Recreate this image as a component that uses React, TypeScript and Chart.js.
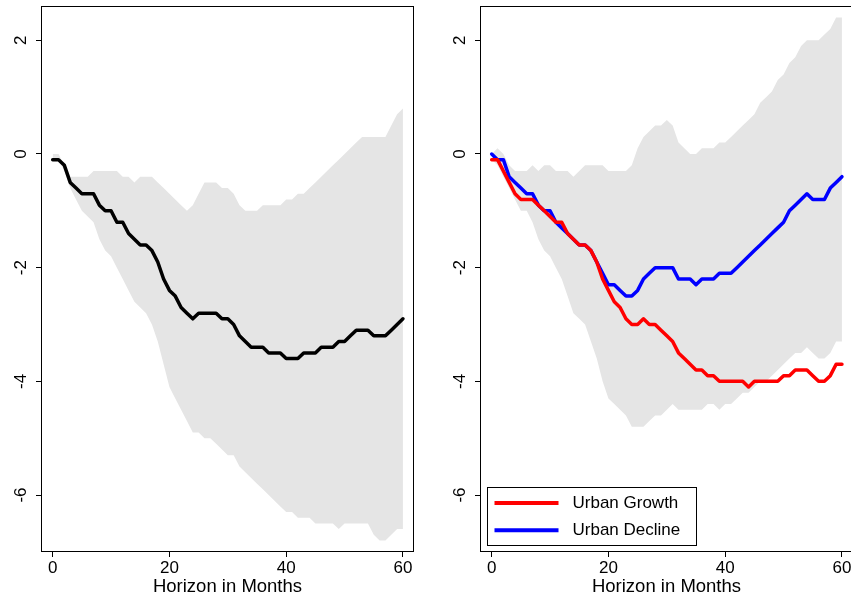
import React, { useEffect, useRef } from "react";
import { Chart, registerables } from "chart.js";

Chart.register(...registerables);

// ---------- data ----------
const months = [
  0, 1, 2, 3, 4, 5, 6, 7, 8, 9, 10, 11, 12, 13, 14, 15, 16, 17, 18, 19, 20,
  21, 22, 23, 24, 25, 26, 27, 28, 29, 30, 31, 32, 33, 34, 35, 36, 37, 38, 39,
  40, 41, 42, 43, 44, 45, 46, 47, 48, 49, 50, 51, 52, 53, 54, 55, 56, 57, 58,
  59, 60,
];
const xTicks = [0, 20, 40, 60];
const yTicks = [-6, -4, -2, 0, 2];
const xTitle = "Horizon in Months";
const legendLabels = ["Urban Growth", "Urban Decline"];

// left panel: overall response with band
const allLine = [
  -0.1, -0.1, -0.2, -0.5, -0.6, -0.7, -0.7, -0.7, -0.9, -1.0,
  -1.0, -1.2, -1.2, -1.4, -1.5, -1.6, -1.6, -1.7, -1.9, -2.2,
  -2.4, -2.5, -2.7, -2.8, -2.9, -2.8, -2.8, -2.8, -2.8, -2.9,
  -2.9, -3.0, -3.2, -3.3, -3.4, -3.4, -3.4, -3.5, -3.5, -3.5,
  -3.6, -3.6, -3.6, -3.5, -3.5, -3.5, -3.4, -3.4, -3.4, -3.3,
  -3.3, -3.2, -3.1, -3.1, -3.1, -3.2, -3.2, -3.2, -3.1, -3.0,
  -2.9,
];
const allUpper = [
  0.0, 0.0, -0.2, -0.4, -0.4, -0.4, -0.4, -0.3, -0.3, -0.3,
  -0.3, -0.3, -0.4, -0.4, -0.5, -0.4, -0.4, -0.4, -0.5, -0.6,
  -0.7, -0.8, -0.9, -1.0, -0.9, -0.7, -0.5, -0.5, -0.5, -0.6,
  -0.6, -0.7, -0.9, -1.0, -1.0, -1.0, -0.9, -0.9, -0.9, -0.9,
  -0.8, -0.8, -0.7, -0.7, -0.6, -0.5, -0.4, -0.3, -0.2, -0.1,
  0.0, 0.1, 0.2, 0.3, 0.3, 0.3, 0.3, 0.3, 0.5, 0.7,
  0.8,
];
const allLower = [
  -0.1, -0.1, -0.3, -0.6, -0.8, -1.0, -1.1, -1.2, -1.5, -1.7,
  -1.8, -2.0, -2.2, -2.4, -2.6, -2.7, -2.8, -3.0, -3.3, -3.7,
  -4.1, -4.3, -4.5, -4.7, -4.9, -4.9, -5.0, -5.0, -5.1, -5.2,
  -5.3, -5.3, -5.5, -5.6, -5.7, -5.8, -5.9, -6.0, -6.1, -6.2,
  -6.3, -6.3, -6.4, -6.4, -6.4, -6.5, -6.5, -6.5, -6.5, -6.6,
  -6.5, -6.5, -6.5, -6.5, -6.5, -6.7, -6.8, -6.8, -6.7, -6.6,
  -6.6,
];

// right panel: urban growth vs urban decline
const growthLine = [
  -0.1, -0.1, -0.3, -0.5, -0.7, -0.8, -0.8, -0.8, -0.9, -1.0,
  -1.1, -1.2, -1.2, -1.4, -1.5, -1.6, -1.6, -1.7, -1.9, -2.2,
  -2.4, -2.6, -2.7, -2.9, -3.0, -3.0, -2.9, -3.0, -3.0, -3.1,
  -3.2, -3.3, -3.5, -3.6, -3.7, -3.8, -3.8, -3.9, -3.9, -4.0,
  -4.0, -4.0, -4.0, -4.0, -4.1, -4.0, -4.0, -4.0, -4.0, -4.0,
  -3.9, -3.9, -3.8, -3.8, -3.8, -3.9, -4.0, -4.0, -3.9, -3.7,
  -3.7,
];
const declineLine = [
  0.0, -0.1, -0.1, -0.4, -0.5, -0.6, -0.7, -0.7, -0.9, -1.0,
  -1.0, -1.2, -1.3, -1.4, -1.5, -1.6, -1.6, -1.7, -1.9, -2.1,
  -2.3, -2.3, -2.4, -2.5, -2.5, -2.4, -2.2, -2.1, -2.0, -2.0,
  -2.0, -2.0, -2.2, -2.2, -2.2, -2.3, -2.2, -2.2, -2.2, -2.1,
  -2.1, -2.1, -2.0, -1.9, -1.8, -1.7, -1.6, -1.5, -1.4, -1.3,
  -1.2, -1.0, -0.9, -0.8, -0.7, -0.8, -0.8, -0.8, -0.6, -0.5,
  -0.4,
];
const splitUpper = [
  0.0, 0.1, 0.0, -0.2, -0.3, -0.3, -0.3, -0.2, -0.3, -0.2,
  -0.2, -0.3, -0.3, -0.3, -0.4, -0.3, -0.2, -0.2, -0.2, -0.2,
  -0.3, -0.3, -0.3, -0.3, -0.2, 0.1, 0.3, 0.4, 0.5, 0.5,
  0.6, 0.5, 0.2, 0.1, 0.0, 0.0, 0.1, 0.1, 0.1, 0.2,
  0.2, 0.3, 0.4, 0.5, 0.6, 0.7, 0.9, 1.0, 1.1, 1.3,
  1.4, 1.6, 1.7, 1.9, 2.0, 2.0, 2.0, 2.1, 2.2, 2.4,
  2.4,
];
const splitLower = [
  -0.1, -0.2, -0.4, -0.6, -0.8, -1.0, -1.0, -1.2, -1.5, -1.7,
  -1.8, -2.0, -2.2, -2.5, -2.8, -2.9, -3.0, -3.3, -3.6, -4.0,
  -4.3, -4.4, -4.5, -4.6, -4.8, -4.8, -4.8, -4.7, -4.6, -4.6,
  -4.5, -4.4, -4.5, -4.5, -4.5, -4.5, -4.5, -4.4, -4.4, -4.5,
  -4.4, -4.4, -4.3, -4.2, -4.2, -4.1, -4.0, -4.0, -3.9, -3.8,
  -3.7, -3.6, -3.5, -3.5, -3.4, -3.5, -3.6, -3.6, -3.5, -3.3,
  -3.3,
];

// ---------- styling ----------
const FONT = "'Liberation Sans', Arial, Helvetica, sans-serif";
const BAND = "#e5e5e5";

const pts = (vals: number[]) => months.map((m, i) => ({ x: m, y: vals[i] }));

const framePlugin = {
  id: "frameBox",
  afterDraw(chart: any) {
    const { ctx, chartArea: a } = chart;
    ctx.save();
    ctx.strokeStyle = "#000";
    ctx.lineWidth = 1;
    ctx.strokeRect(
      Math.round(a.left) - 0.5,
      Math.round(a.top) - 0.5,
      Math.round(a.right) - Math.round(a.left) + 1,
      Math.round(a.bottom) - Math.round(a.top) + 1
    );
    ctx.restore();
  },
};

const boxLegendPlugin = {
  id: "boxLegend",
  afterDraw(chart: any, _args: any, opts: any) {
    if (!opts || !opts.display) return;
    const { ctx, chartArea: a } = chart;
    const items = chart.data.datasets.filter((d: any) => d.inLegend);
    const w = 209;
    const h = 58;
    const x0 = Math.round(a.left + 6) + 0.5;
    const y0 = Math.round(a.bottom - 6 - h) + 0.5;
    ctx.save();
    ctx.fillStyle = "#fff";
    ctx.fillRect(x0, y0, w, h);
    ctx.strokeStyle = "#000";
    ctx.lineWidth = 1;
    ctx.strokeRect(x0, y0, w, h);
    items.forEach((d: any, i: number) => {
      const cy = y0 + 15.5 + i * 27.3;
      ctx.strokeStyle = d.borderColor;
      ctx.lineWidth = 4;
      ctx.beginPath();
      ctx.moveTo(x0 + 7, cy);
      ctx.lineTo(x0 + 71, cy);
      ctx.stroke();
      ctx.fillStyle = "#000";
      ctx.font = `17px ${FONT}`;
      ctx.textBaseline = "middle";
      ctx.textAlign = "left";
      ctx.fillText(d.label, x0 + 85, cy);
    });
    ctx.restore();
  },
};

function makeConfig(datasets: any[], showLegend: boolean): any {
  return {
    type: "line",
    data: { datasets },
    plugins: [framePlugin, boxLegendPlugin],
    options: {
      animation: false,
      responsive: false,
      devicePixelRatio: 1,
      layout: { padding: { left: 0, right: 12, top: 7, bottom: 0 } },
      elements: { point: { radius: 0 }, line: { tension: 0 } },
      plugins: {
        legend: { display: false },
        tooltip: { enabled: false },
        filler: { drawTime: "beforeDatasetsDraw" },
        boxLegend: { display: showLegend },
      },
      scales: {
        x: {
          type: "linear",
          min: -1.83,
          max: 61.72,
          afterBuildTicks: (s: any) => {
            s.ticks = xTicks.map((v) => ({ value: v }));
          },
          afterFit: (s: any) => {
            s.height = 48;
            s.paddingLeft = 0;
            s.paddingRight = 0;
          },
          border: { display: false },
          grid: {
            drawOnChartArea: false,
            drawTicks: true,
            tickLength: 6,
            tickColor: "#000",
            tickWidth: 1,
          },
          ticks: {
            color: "#000",
            padding: 1,
            maxRotation: 0,
            minRotation: 0,
            font: { family: FONT, size: 17 },
          },
          title: {
            display: true,
            text: xTitle,
            color: "#000",
            font: { family: FONT, size: 18.5 },
            padding: { top: 0, bottom: 1 },
          },
        },
        y: {
          type: "linear",
          min: -6.985,
          max: 2.586,
          afterBuildTicks: (s: any) => {
            s.ticks = yTicks.map((v) => ({ value: v }));
          },
          afterFit: (s: any) => {
            s.width = 42;
            s.paddingTop = 0;
            s.paddingBottom = 0;
          },
          border: { display: false },
          grid: {
            drawOnChartArea: false,
            drawTicks: true,
            tickLength: 6,
            tickColor: "#000",
            tickWidth: 1,
          },
          ticks: {
            color: "#000",
            padding: 7,
            minRotation: 90,
            maxRotation: 90,
            crossAlign: "center",
            font: { family: FONT, size: 17 },
          },
        },
      },
    },
  };
}

const bandSets = (upper: number[], lower: number[]) => [
  {
    label: "upper",
    data: pts(upper),
    borderWidth: 0,
    borderColor: "rgba(0,0,0,0)",
    backgroundColor: BAND,
    fill: "+1",
    order: 5,
  },
  {
    label: "lower",
    data: pts(lower),
    borderWidth: 0,
    borderColor: "rgba(0,0,0,0)",
    backgroundColor: BAND,
    fill: false,
    order: 5,
  },
];

const lineSet = (label: string, vals: number[], color: string, inLegend: boolean) => ({
  label,
  data: pts(vals),
  borderColor: color,
  backgroundColor: color,
  borderWidth: 3.5,
  borderJoinStyle: "round",
  borderCapStyle: "round",
  fill: false,
  order: 1,
  inLegend,
});

export default function App() {
  const leftRef = useRef<HTMLCanvasElement | null>(null);
  const rightRef = useRef<HTMLCanvasElement | null>(null);

  useEffect(() => {
    const left = new Chart(
      leftRef.current as HTMLCanvasElement,
      makeConfig([...bandSets(allUpper, allLower), lineSet("All", allLine, "#000000", false)], false)
    );
    const right = new Chart(
      rightRef.current as HTMLCanvasElement,
      makeConfig(
        [
          ...bandSets(splitUpper, splitLower),
          lineSet(legendLabels[0], growthLine, "#ff0000", true),
          lineSet(legendLabels[1], declineLine, "#0000ff", true),
        ],
        true
      )
    );
    return () => {
      left.destroy();
      right.destroy();
    };
  }, []);

  return (
    <div
      style={{
        position: "fixed",
        left: 0,
        top: 0,
        width: 851,
        height: 599,
        overflow: "hidden",
        background: "#fff",
      }}
    >
      <canvas
        ref={leftRef}
        width={425}
        height={599}
        style={{ position: "absolute", left: 0, top: 0, width: 425, height: 599 }}
      />
      <canvas
        ref={rightRef}
        width={425}
        height={599}
        style={{ position: "absolute", left: 439, top: 0, width: 425, height: 599 }}
      />
    </div>
  );
}
